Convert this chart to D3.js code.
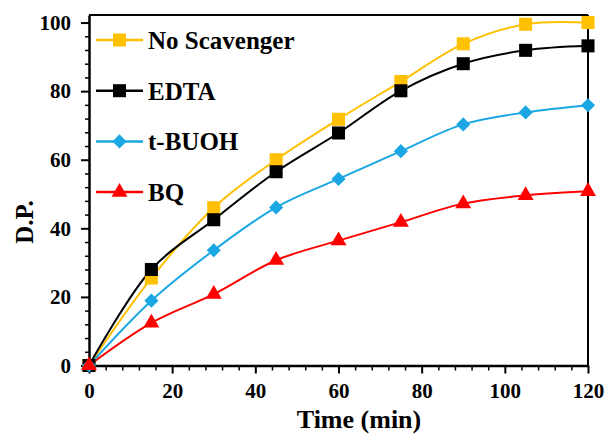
<!DOCTYPE html>
<html>
<head>
<meta charset="utf-8">
<script src="https://cdn.jsdelivr.net/npm/d3@7"></script>
<style>
  body { margin: 0; background: #fff; }
  text { font-family: "Liberation Serif", "Times New Roman", serif; font-weight: bold; }
</style>
</head>
<body>
<div id="chart"></div>
<script>
// data
var times = [0, 15, 30, 45, 60, 75, 90, 105, 120];
var noScavenger = [0, 25.5, 46, 60, 71.8, 82.8, 93.8, 99.5, 100];
var edta = [0, 28, 42.5, 56.5, 67.8, 80.1, 88, 91.9, 93.2];
var tBuoh = [0, 18.9, 33.6, 46.1, 54.4, 62.5, 70.3, 73.8, 75.9];
var bq = [0, 12.4, 20.8, 30.7, 36.4, 41.8, 47.2, 49.6, 50.8];
var seriesNames = ["No Scavenger", "EDTA", "t-BUOH", "BQ"];
var xTicks = [0, 20, 40, 60, 80, 100, 120];
var yTicks = [0, 20, 40, 60, 80, 100];

// diamond = square turned 45 degrees
var series = [
  { name: seriesNames[0], values: noScavenger, color: "#FFC000", symbol: d3.symbolSquare, size: 170, rot: 0 },
  { name: seriesNames[1], values: edta, color: "#000000", symbol: d3.symbolSquare, size: 170, rot: 0 },
  { name: seriesNames[2], values: tBuoh, color: "#1AA7E3", symbol: d3.symbolSquare, size: 100, rot: 45 },
  { name: seriesNames[3], values: bq, color: "#FF0000", symbol: d3.symbolTriangle, size: 110, rot: 0 }
];

var svg = d3.select("#chart").append("svg")
  .attr("width", 608)
  .attr("height", 443);

var margin = { top: 15, right: 20, bottom: 78, left: 89 };
var width = 588 - margin.left;
var height = 365.5 - margin.top;

var x = d3.scaleLinear().domain([0, 120]).range([0, width]);
var y = d3.scaleLinear().domain([0, 102.2]).range([height, 0]);

var g = svg.append("g")
  .attr("transform", "translate(" + margin.left + "," + margin.top + ")");

// minor ticks every 4 units
var minor = d3.range(0, 121, 4).filter(function (v) { return v % 20 !== 0; });
var minorY = d3.range(0, 101, 4).filter(function (v) { return v % 20 !== 0; });

g.append("g")
  .attr("transform", "translate(0," + height + ")")
  .call(d3.axisBottom(x).tickValues(minor).tickSize(5).tickFormat(""))
  .call(function (a) { a.select(".domain").remove(); a.selectAll("line").attr("stroke-width", 1.5); });

g.append("g")
  .call(d3.axisLeft(y).tickValues(minorY).tickSize(4).tickFormat(""))
  .call(function (a) { a.select(".domain").remove(); a.selectAll("line").attr("stroke-width", 1.5); });

var xAxis = g.append("g")
  .attr("transform", "translate(0," + height + ")")
  .call(d3.axisBottom(x).tickValues(xTicks).tickSize(8).tickPadding(10).tickSizeOuter(0));
xAxis.selectAll("text").attr("font-size", "21px").attr("fill", "#000");
xAxis.selectAll("line").attr("stroke-width", 2);
xAxis.select(".domain").attr("stroke-width", 2.5);

var yAxis = g.append("g")
  .call(d3.axisLeft(y).tickValues(yTicks).tickSize(8).tickPadding(10).tickSizeOuter(0));
yAxis.selectAll("text").attr("font-size", "21px").attr("fill", "#000");
yAxis.selectAll("line").attr("stroke-width", 2);
yAxis.select(".domain").attr("stroke-width", 2.5);

// frame top and right
g.append("line").attr("x1", 0).attr("x2", width).attr("y1", 0).attr("y2", 0)
  .attr("stroke", "#000").attr("stroke-width", 2);
g.append("line").attr("x1", width).attr("x2", width).attr("y1", 0).attr("y2", height)
  .attr("stroke", "#000").attr("stroke-width", 2);

var line = d3.line()
  .x(function (d, i) { return x(times[i]); })
  .y(function (d) { return y(d); })
  .curve(d3.curveCatmullRom.alpha(0.5));

series.forEach(function (s) {
  g.append("path")
    .attr("d", line(s.values))
    .attr("fill", "none")
    .attr("stroke", s.color)
    .attr("stroke-width", 2);
});

series.forEach(function (s) {
  g.selectAll(null)
    .data(s.values)
    .enter()
    .append("path")
    .attr("d", d3.symbol().type(s.symbol).size(s.size))
    .attr("transform", function (d, i) {
      return "translate(" + x(times[i]) + "," + y(d) + ") rotate(" + s.rot + ")";
    })
    .attr("fill", s.color);
});

// legend
var legend = svg.append("g").attr("transform", "translate(96,40)");
series.forEach(function (s, i) {
  var row = legend.append("g").attr("transform", "translate(0," + i * 50.7 + ")");
  row.append("line").attr("x1", 0).attr("x2", 47).attr("y1", 0).attr("y2", 0)
    .attr("stroke", s.color).attr("stroke-width", 2.5);
  row.append("path")
    .attr("d", d3.symbol().type(s.symbol).size(s.size))
    .attr("transform", "translate(23.5,0) rotate(" + s.rot + ")")
    .attr("fill", s.color);
  row.append("text")
    .attr("x", 52)
    .attr("y", 9)
    .attr("font-size", "25px")
    .attr("fill", "#000")
    .text(s.name);
});

// axis titles
svg.append("text")
  .attr("x", 359)
  .attr("y", 428)
  .attr("text-anchor", "middle")
  .attr("font-size", "26px")
  .text("Time (min)");

svg.append("text")
  .attr("transform", "translate(33,222) rotate(-90)")
  .attr("text-anchor", "middle")
  .attr("font-size", "25px")
  .text("D.P.");
</script>
</body>
</html>
